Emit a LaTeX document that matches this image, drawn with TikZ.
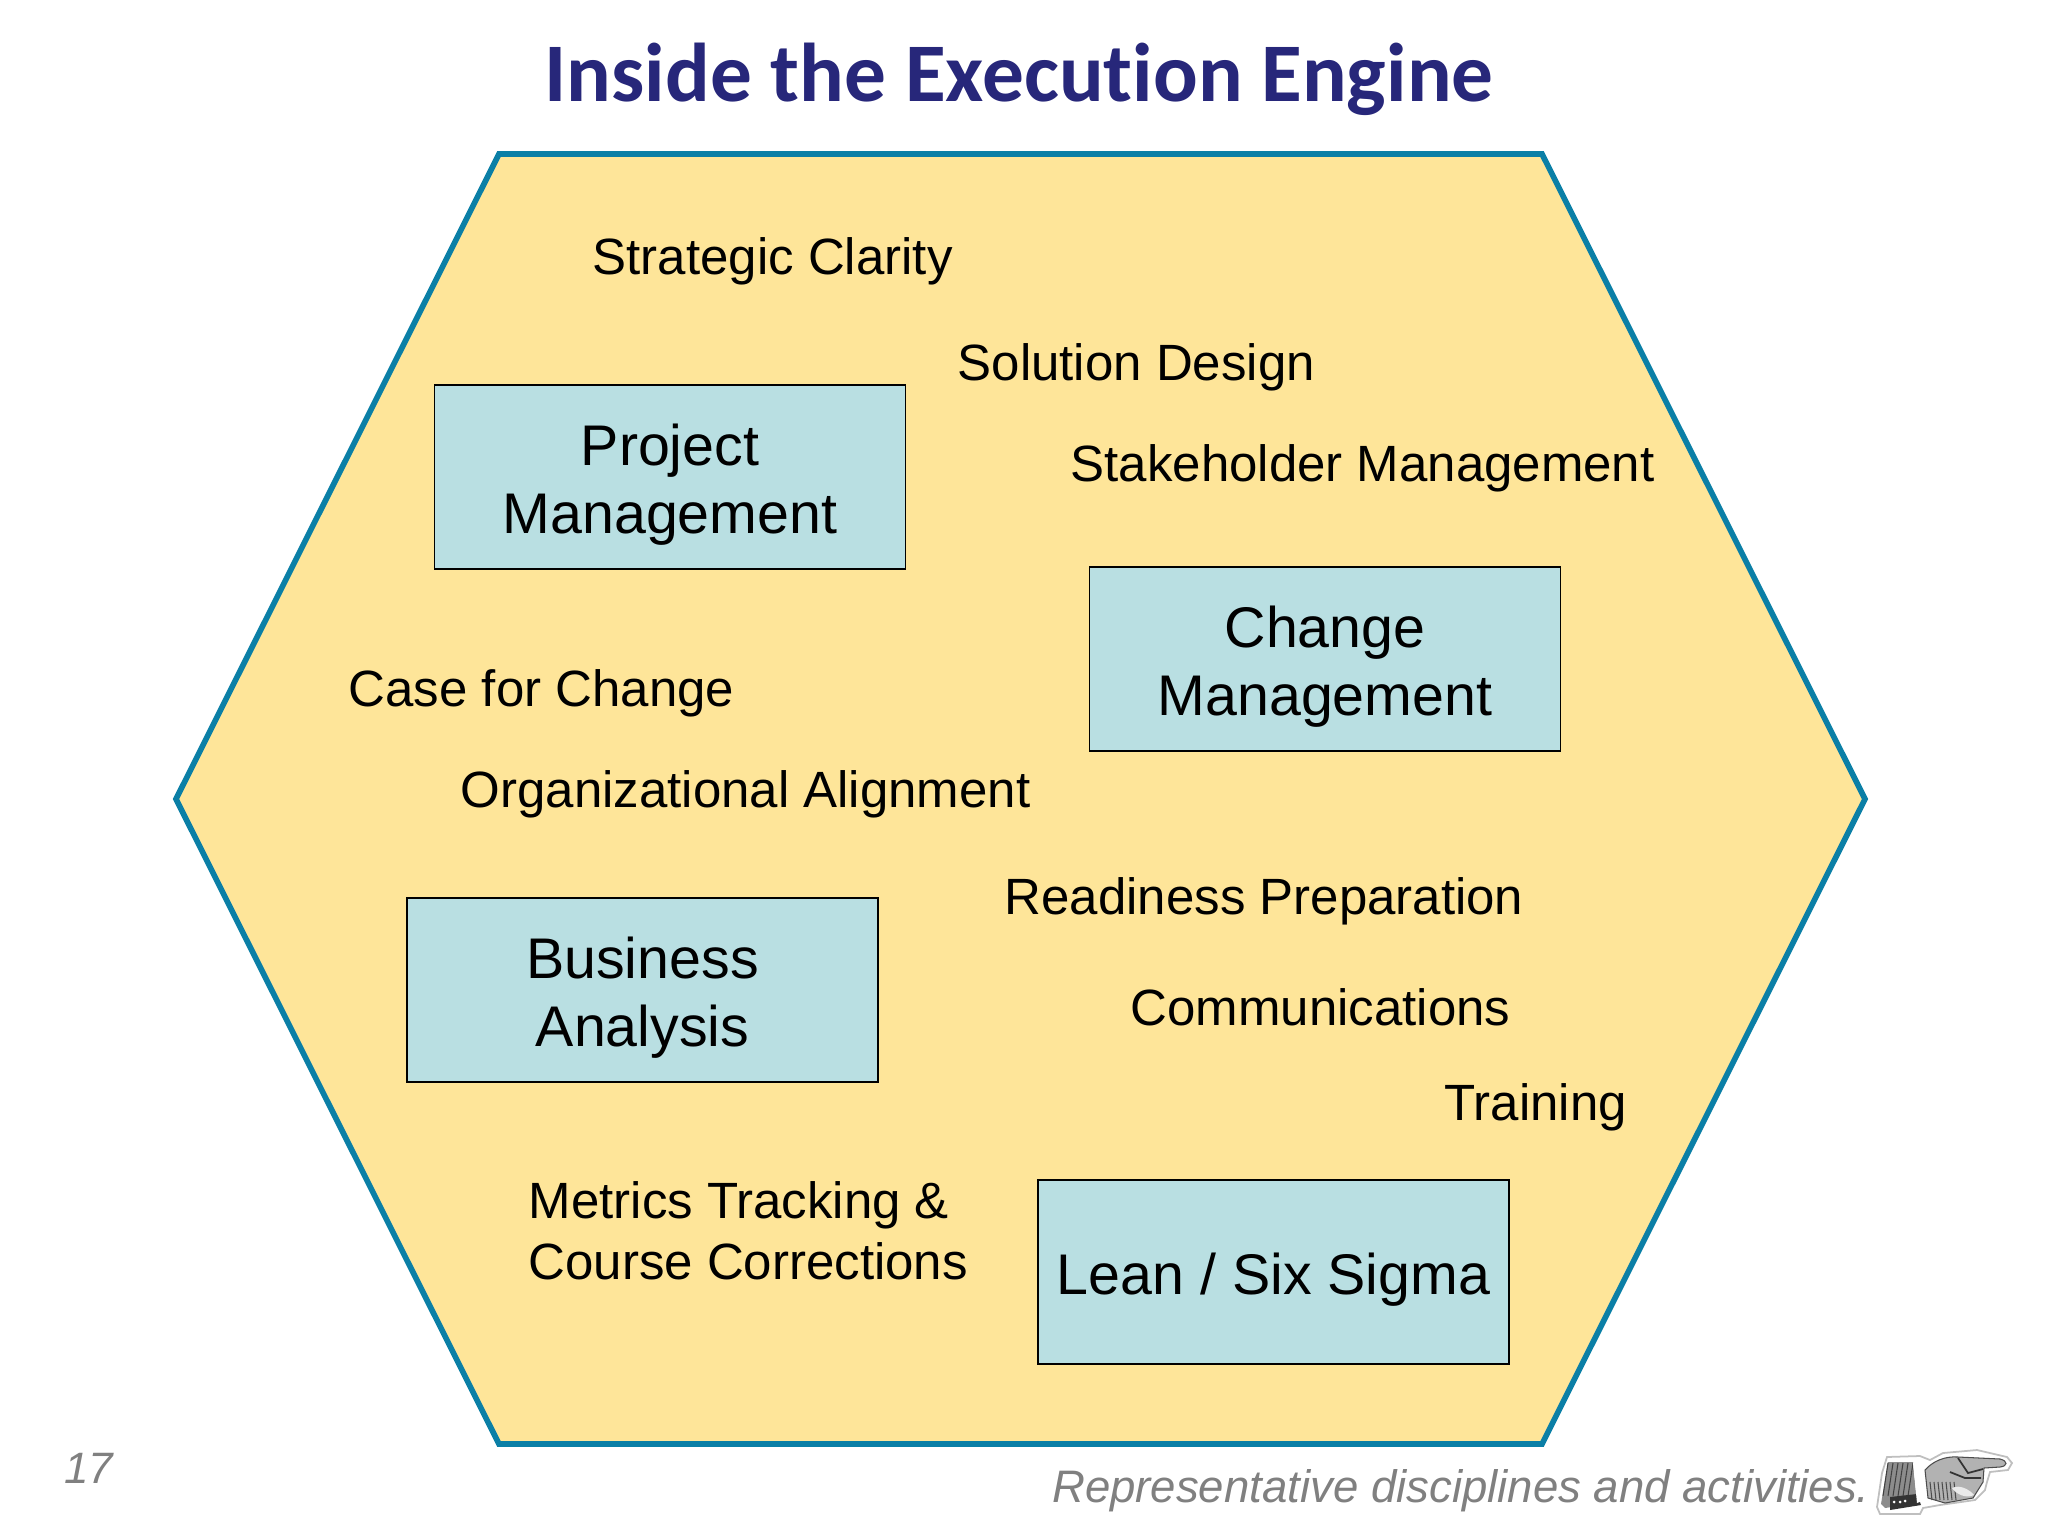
\documentclass[tikz,border=0pt]{standalone}
\usepackage{fontspec}
\setmainfont{Liberation Sans}
\newfontfamily\titlefont[Ligatures=NoCommon]{Carlito}
\definecolor{hexfill}{HTML}{FEE599}
\definecolor{hexline}{HTML}{0B7FA6}
\definecolor{boxfill}{HTML}{B9DFE2}
\definecolor{titleblue}{HTML}{27277A}
\definecolor{notegray}{HTML}{808080}
\newcommand{\lift}{\rule{0pt}{16.3pt}}
\begin{document}
\begin{tikzpicture}[x=0.01cm, y=-0.01cm,
    disc/.style={draw=black, fill=boxfill, line width=0.4pt, minimum width=134pt, minimum height=52.3pt, align=center, font=\fontsize{16.3}{19.3}\selectfont, inner sep=0pt},
    item/.style={anchor=west, inner sep=0pt, align=left, font=\fontsize{14.5}{17.4}\selectfont}]

    \useasboundingbox (0, 0) rectangle (2048, 1536);

    \node (title) at (1019, 79) {\titlefont\bfseries\fontsize{23.7}{28}\selectfont\textcolor{titleblue}{Inside the Execution Engine}};

    \draw [draw=hexline, fill=hexfill, line width=1.6pt, line join=miter] (499, 154) -- (1542, 154) -- (1865, 799) -- (1542, 1444) -- (499, 1444) -- (176, 799) -- cycle;

    \node (a) at (592, 261) [item] {Strategic Clarity};
    \node (b) at (957, 367) [item] {Solution Design};
    \node (c) at (1070, 468) [item] {Stakeholder Management};
    \node (d) at (348, 693) [item] {Case for Change};
    \node (e) at (460, 794) [item] {Organizational Alignment};
    \node (f) at (1004, 901) [item] {Readiness Preparation};
    \node (g) at (1130, 1007) [item] {Communications};
    \node (h) at (1444, 1107) [item] {Training};
    \node (i) at (528, 1231) [item] {Metrics Tracking \&\\Course Corrections};

    \node (pm) at (670, 477) [disc] {\lift Project\\Management};
    \node (cm) at (1325, 659) [disc] {\lift Change\\Management};
    \node (ba) at (642.5, 990) [disc] {\lift Business\\Analysis};
    \node (ls) at (1273.5, 1272) [disc] {\lift Lean / Six Sigma};

    \node (n) at (89, 1468) {\fontsize{12.5}{15}\selectfont\itshape\textcolor{notegray}{17}};
    \node (r) at (1461, 1491) {\fontsize{12.95}{16}\selectfont\itshape\textcolor{notegray}{Representative disciplines and activities.}};

    % pointing hand
    \draw [draw=black!25, fill=white, line width=0.5pt] (1887, 1457) -- (1920, 1456) -- (1930, 1460) -- (1943, 1453) -- (1977, 1450) -- (2007, 1457) -- (2012, 1463) -- (2008, 1470) -- (1990, 1472) -- (1987, 1482) -- (1985, 1490) -- (1975, 1500) -- (1940, 1505) -- (1923, 1508) -- (1920, 1514) -- (1880, 1514) -- (1877, 1507) -- (1882, 1473) -- cycle;
    \fill [black!45] (1888, 1462) -- (1913, 1462) -- (1917, 1503) -- (1885, 1508) -- (1881, 1504) -- cycle;
    \foreach \k in {0, 5, ..., 25}
        \draw [black!75, line width=0.3pt] (1883 + \k, 1496) -- (1888 + \k, 1463);
    \fill [black!80] (1890, 1497) -- (1917, 1494) -- (1921, 1505) -- (1890, 1510) -- cycle;
    \fill [white] (1894, 1502) circle (1.5) (1900, 1502) circle (1.5) (1905, 1501) circle (1.5);
    \fill [white] (1913, 1463) -- (1923, 1463) -- (1925, 1500) -- (1917, 1503) -- cycle;
    \draw [black!70, fill=black!30, line width=0.3pt] (1925, 1470) .. controls (1933, 1461) and (1945, 1456) .. (1958, 1457) -- (2000, 1459) .. controls (2008, 1461) and (2008, 1466) .. (2000, 1467) -- (1984, 1468) -- (1983, 1482) -- (1973, 1498) -- (1945, 1503) -- (1928, 1498) -- cycle;
    \foreach \k in {0, 4, ..., 24}
        \draw [black!70, line width=0.3pt] (1930 + \k, 1482) -- (1932 + \k, 1500);
    \draw [black!80, line width=0.5pt] (1958, 1458) -- (1968, 1473) -- (1983, 1469) (1950, 1472) -- (1965, 1478) -- (1981, 1478);
    \fill [black!8] (1952, 1488) .. controls (1960, 1484) and (1970, 1490) .. (1974, 1495) .. controls (1966, 1499) and (1956, 1494) .. (1952, 1488) -- cycle;
\end{tikzpicture}
\end{document}
